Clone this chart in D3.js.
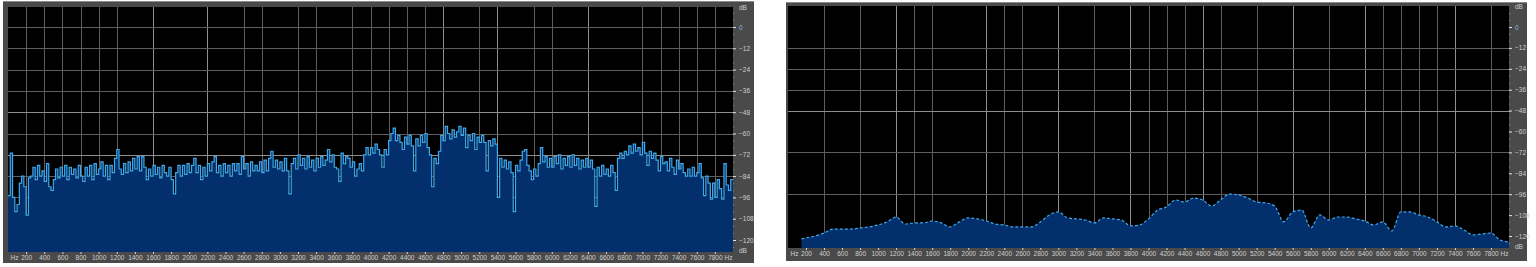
<!DOCTYPE html>
<html>
<head>
<meta charset="utf-8">
<script src="https://cdn.jsdelivr.net/npm/d3@7"></script>
<style>
body { margin: 0; background: #fff; }
svg { display: block; }
text { font-family: "Liberation Sans", Arial, sans-serif; }
</style>
</head>
<body>
<svg id="chart" width="1536" height="267"></svg>
<script>
/* two spectrum views, 0 - 8000 Hz */
var binHz = 25;

// left view: one value per 25 Hz bin (dB)
var leftDb = [
  -95,-71,-96,-104,-100,-88,-84,-90,-106,-85,
  -84,-79,-86,-78,-84,-81,-87,-77,-90,-92,
  -86,-80,-85,-79,-84,-78,-86,-79,-83,-80,
  -85,-78,-84,-87,-79,-84,-78,-86,-77,-83,
  -80,-76,-84,-78,-86,-78,-82,-74,-69,-80,
  -83,-77,-82,-76,-81,-74,-80,-73,-81,-73,
  -79,-86,-80,-84,-78,-83,-79,-85,-78,-82,
  -84,-79,-86,-94,-82,-78,-84,-78,-83,-77,
  -82,-78,-74,-82,-78,-86,-79,-84,-77,-81,
  -76,-73,-82,-78,-84,-77,-82,-78,-84,-77,
  -81,-77,-83,-73,-80,-77,-84,-76,-81,-78,
  -81,-76,-82,-75,-81,-74,-70,-79,-75,-80,
  -76,-81,-74,-81,-94,-77,-74,-80,-72,-78,
  -74,-80,-73,-79,-75,-81,-74,-79,-73,-78,
  -75,-69,-76,-72,-79,-80,-87,-71,-77,-73,
  -74,-79,-76,-84,-80,-77,-81,-72,-68,-72,
  -68,-71,-66,-69,-72,-79,-69,-72,-64,-60,
  -57,-64,-61,-65,-69,-62,-66,-61,-67,-81,
  -63,-67,-61,-65,-60,-68,-72,-90,-74,-77,
  -70,-61,-64,-56,-60,-63,-58,-62,-59,-56,
  -61,-57,-68,-61,-64,-60,-69,-62,-65,-61,
  -65,-81,-64,-67,-63,-66,-96,-74,-79,-75,
  -80,-76,-82,-104,-78,-81,-75,-70,-69,-78,
  -81,-86,-80,-84,-77,-68,-76,-73,-79,-74,
  -79,-73,-77,-72,-80,-74,-78,-73,-79,-72,
  -78,-74,-80,-75,-79,-74,-79,-75,-80,-101,
  -79,-84,-78,-83,-80,-84,-78,-82,-92,-74,
  -71,-74,-70,-72,-67,-71,-66,-70,-68,-72,
  -65,-71,-78,-70,-74,-71,-75,-81,-73,-77,
  -76,-81,-74,-79,-83,-75,-80,-77,-82,-84,
  -80,-84,-79,-84,-82,-77,-85,-95,-84,-88,
  -97,-88,-96,-86,-91,-97,-77,-89,-92,-86
];

// right view: smoothed curve
var rightHz = [150].concat(d3.range(200, 8001, 100));
var rightDb = [
  -121.7,-121.1,-120.0,-118.3,-116.0,-116.0,-116.0,-115.4,-114.8,-113.7,
  -111.9,-109.1,-113.1,-112.5,-112.5,-111.4,-112.5,-114.8,-111.9,-109.6,
  -110.2,-111.4,-113.1,-113.7,-114.8,-114.8,-114.8,-111.9,-107.9,-106.2,
  -109.6,-110.2,-110.8,-112.5,-109.6,-110.2,-110.8,-114.2,-113.7,-110.2,
  -105.1,-103.3,-99.3,-100.5,-98.2,-99.3,-102.8,-99.3,-95.9,-96.4,
  -98.2,-100.5,-101.0,-102.8,-111.9,-106.2,-105.1,-115.4,-107.9,-110.8,
  -109.1,-109.1,-110.2,-111.4,-113.7,-111.9,-117.1,-106.2,-106.2,-107.9,
  -109.1,-111.9,-114.8,-114.2,-116.5,-119.4,-118.8,-118.3,-122.3,-123.4
];

var freqTicks = d3.range(0, 8001, 200);   // 0 and 8000 show as "Hz"
var dbTicks = [0, -12, -24, -36, -48, -60, -72, -84, -96, -108, -120];

var leftGridHz = [200,400,600,800,1000,1200,1600,2200,2600,2800,3200,3400,3800,4000,
                  4200,4400,4600,4800,5200,5400,5800,6000,6400,7000,7200,7400,7600,7800];
var leftBrightHz = [1600, 2200, 4800, 5400, 6400];
var leftGridDb = [0, -12, -24, -36, -48, -60, -72, -84, -96, -108, -120];
var leftBrightDb = [-48, -72];

var rightGridHz = [400,800,1200,1400,1600,2200,2400,2600,3000,3400,3800,4000,4200,4400,
                   4600,4800,5200,5600,6000,6400,6600,6800,7000,7200,7400,7800];
var rightBrightHz = [1200, 2200, 3000, 3800, 4600, 5600, 6400, 7400];
var rightGridDb = [-12, -24, -36, -48, -72, -96];
var rightBrightDb = [-48];

var svg = d3.select('#chart');

function drawPanel(p, id) {
  var x = d3.scaleLinear().domain([0, 8000]).range([p.left, p.right]);
  var y = d3.scaleLinear().domain([0, -120]).range([p.y0, p.y120]);
  var g = svg.append('g');

  g.append('rect')
    .attr('x', p.ox).attr('y', p.oy).attr('width', p.ow).attr('height', p.oh)
    .attr('fill', '#4a4a4a');
  g.append('line')
    .attr('x1', p.ox).attr('x2', p.ox + p.ow).attr('y1', p.oy + 0.5).attr('y2', p.oy + 0.5)
    .attr('stroke', '#8a8a8a');
  g.append('rect')
    .attr('x', p.left).attr('y', p.top)
    .attr('width', p.right - p.left).attr('height', p.bottom - p.top)
    .attr('fill', '#000');

  g.append('clipPath').attr('id', id)
    .append('rect')
    .attr('x', p.left).attr('y', p.top)
    .attr('width', p.right - p.left).attr('height', p.bottom - p.top);

  // grid
  g.selectAll('line.vg').data(p.gridHz).enter().append('line')
    .attr('class', 'vg')
    .attr('x1', function(d) { return Math.round(x(d)) + 0.5; })
    .attr('x2', function(d) { return Math.round(x(d)) + 0.5; })
    .attr('y1', p.top).attr('y2', p.bottom)
    .attr('stroke', function(d) { return p.brightHz.indexOf(d) >= 0 ? '#8e8e8e' : '#5e5e5e'; });
  g.selectAll('line.hg').data(p.gridDb).enter().append('line')
    .attr('class', 'hg')
    .attr('x1', p.left).attr('x2', p.right)
    .attr('y1', function(d) { return Math.round(y(d)) + 0.5; })
    .attr('y2', function(d) { return Math.round(y(d)) + 0.5; })
    .attr('stroke', function(d) { return p.brightDb.indexOf(d) >= 0 ? '#8e8e8e' : '#5e5e5e'; });

  // spectrum
  var s = g.append('g').attr('clip-path', 'url(#' + id + ')');
  var area = d3.area()
    .curve(p.curve)
    .x(function(d) { return x(d.hz); })
    .y0(p.bottom)
    .y1(function(d) { return y(d.db); });
  var line = d3.line()
    .curve(p.curve)
    .x(function(d) { return x(d.hz); })
    .y(function(d) { return y(d.db); });
  s.append('path').datum(p.points)
    .attr('d', area)
    .attr('fill', '#03306c');
  s.append('path').datum(p.points)
    .attr('d', line)
    .attr('fill', 'none')
    .attr('stroke', '#3ea8ea')
    .attr('stroke-width', p.lineWidth)
    .attr('stroke-dasharray', p.dash);

  // bottom axis
  var xa = g.append('g')
    .attr('transform', 'translate(0,' + p.bottom + ')')
    .call(d3.axisBottom(x).tickValues(freqTicks).tickSize(2).tickPadding(1)
      .tickFormat(function(d) { return (d === 0 || d === 8000) ? 'Hz' : d; }));
  xa.select('.domain').remove();
  xa.selectAll('line').attr('stroke', '#d8d8d8');
  xa.selectAll('text').attr('fill', '#cfcfcf').style('font-size', '6.5px');
  xa.selectAll('.tick').filter(function(d) { return d === 0; })
    .select('text').attr('text-anchor', 'start').attr('dx', 2);
  xa.selectAll('.tick').filter(function(d) { return d === 8000; })
    .select('text').attr('text-anchor', 'end').attr('dx', -1);
  xa.selectAll('.tick').filter(function(d) { return d === 0 || d === 8000; })
    .select('line').remove();

  // right axis
  var minor = g.append('g')
    .attr('transform', 'translate(' + p.right + ',0)')
    .call(d3.axisRight(y).tickValues(d3.range(8, -126, -4)).tickSize(1).tickFormat(''));
  minor.select('.domain').remove();
  minor.selectAll('line').attr('stroke', '#8a8a8a');

  var ya = g.append('g')
    .attr('transform', 'translate(' + p.right + ',0)')
    .call(d3.axisRight(y).tickValues(dbTicks).tickSize(3).tickPadding(3));
  ya.select('.domain').remove();
  ya.selectAll('line').attr('stroke', '#e0e0e0');
  ya.selectAll('text').attr('fill', function(d) { return d === 0 ? '#8fb6e6' : '#cfcfcf'; })
    .style('font-size', '6.5px');

  g.selectAll('text.unit').data([p.top + 1, p.bottom - 1]).enter().append('text')
    .attr('class', 'unit')
    .attr('x', p.right + 6).attr('y', function(d) { return d; })
    .attr('dy', '0.32em')
    .attr('fill', '#cfcfcf')
    .style('font-size', '6.5px')
    .text('dB');
}

var leftPoints = leftDb.map(function(v, i) { return { hz: i * binHz, db: v }; });
leftPoints.push({ hz: leftDb.length * binHz, db: leftDb[leftDb.length - 1] });

var rightPoints = rightDb.map(function(v, i) { return { hz: rightHz[i], db: v }; });

drawPanel({
  ox: 3, oy: 1, ow: 751, oh: 262,
  left: 8, right: 733, top: 7, bottom: 252, y0: 27, y120: 240,
  gridHz: leftGridHz, brightHz: leftBrightHz, gridDb: leftGridDb, brightDb: leftBrightDb,
  points: leftPoints, curve: d3.curveStepAfter, lineWidth: 1.2, dash: null
}, 'clipL');

drawPanel({
  ox: 786, oy: 2, ow: 741, oh: 259,
  left: 788, right: 1509, top: 6, bottom: 248, y0: 27, y120: 236,
  gridHz: rightGridHz, brightHz: rightBrightHz, gridDb: rightGridDb, brightDb: rightBrightDb,
  points: rightPoints, curve: d3.curveMonotoneX, lineWidth: 1.2, dash: '3,2'
}, 'clipR');
</script>
</body>
</html>
